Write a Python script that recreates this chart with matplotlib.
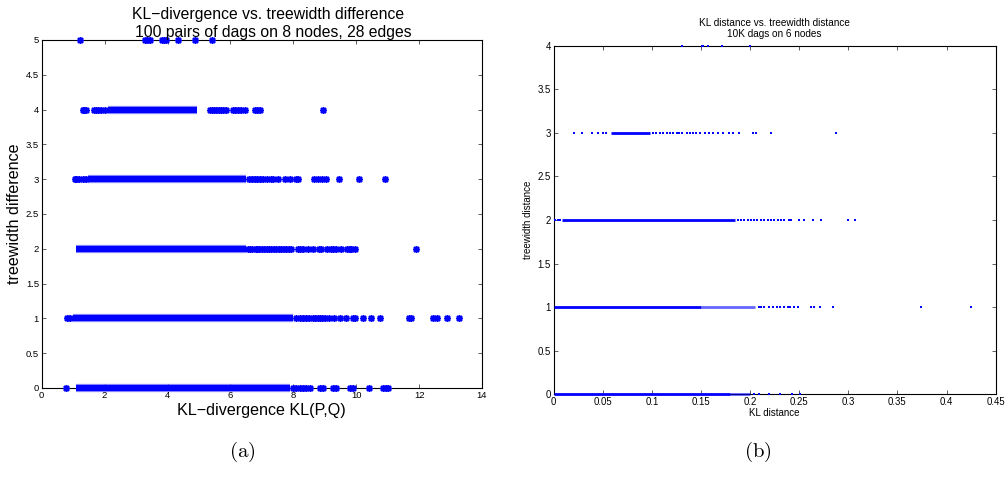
import numpy as np
import matplotlib
matplotlib.use("Agg")
import matplotlib.pyplot as plt

plt.rcParams.update({"font.family": ["Liberation Sans", "DejaVu Sans"],
                     "mathtext.fontset": "cm",
                     "axes.linewidth": 0.8,
                     "xtick.direction": "in", "ytick.direction": "in",
                     "xtick.top": True, "ytick.right": True})
BLUE = "#0000ff"

# ---- (a) KL-divergence vs treewidth difference ----
# dense bands (start, end) per treewidth level, plus sparse points
a_levels = [0, 1, 2, 3, 4, 5]
a_spans = {0: [(1.1, 7.9)], 1: [(1.0, 8.0)], 2: [(1.1, 6.5)],
           3: [(1.48, 6.5)], 4: [(2.1, 4.95)], 5: []}
a_pts = {
    0: [0.76, 8.0, 8.1, 8.2, 8.31, 8.4, 8.52, 8.84, 8.94, 9.26, 9.36,
        9.79, 9.89, 10.42, 10.85, 10.95, 11.0],
    1: [0.79, 0.9, 8.1, 8.2, 8.3, 8.4, 8.5, 8.63, 8.7, 8.78, 8.84, 8.9, 9.0,
        9.15, 9.3, 9.47, 9.68, 9.89, 9.95, 10.21, 10.48, 10.77, 11.69,
        11.74, 12.43, 12.56, 12.9, 13.28],
    2: [6.55, 6.62, 6.7, 6.8, 6.85, 6.9, 7.0, 7.08, 7.15, 7.22, 7.3, 7.38,
        7.45, 7.55, 7.62, 7.7, 7.78, 7.85, 7.92, 8.15, 8.22, 8.3, 8.46,
        8.62, 8.83, 8.87, 9.07, 9.2, 9.26, 9.35, 9.52, 9.7, 9.8, 9.84,
        9.95, 11.9],
    3: [1.05, 1.1, 1.18, 1.32, 1.4, 6.6, 6.7, 6.78, 6.85, 6.95, 7.05, 7.15,
        7.3, 7.35, 7.5, 7.75, 7.9, 8.1, 8.15, 8.65, 8.78, 8.92, 9.03, 9.44,
        10.1, 10.92],
    4: [1.30, 1.36, 1.42, 1.66, 1.72, 1.8, 1.9, 2.0, 5.34, 5.4, 5.48, 5.55,
        5.63, 5.7, 5.78, 5.87, 6.08, 6.15, 6.25, 6.35, 6.45, 6.77, 6.85,
        6.95, 8.94],
    5: [1.23, 3.29, 3.35, 3.44, 3.82, 3.88, 3.95, 4.32, 4.86, 5.43],
}
a_xticks = [0, 2, 4, 6, 8, 10, 12, 14]
a_yticks = [0, 0.5, 1, 1.5, 2, 2.5, 3, 3.5, 4, 4.5, 5]

# ---- (b) KL distance vs treewidth distance ----
b_levels = [0, 1, 2, 3, 4]
b_spans = {0: [(0.0, 0.18)], 1: [(0.0, 0.15)], 2: [(0.008, 0.185)],
           3: [(0.058, 0.098)], 4: []}
b_faint = {0: [(0.18, 0.2)], 1: [(0.15, 0.2052)], 2: [], 3: [], 4: []}
b_pts = {
    0: [0.2035, 0.2086, 0.2188, 0.2307, 0.2426, 0.2511],
    1: [0.2086, 0.2109, 0.2137, 0.2188, 0.2232, 0.2273, 0.2307, 0.2341,
        0.2382, 0.2408, 0.2442, 0.2483, 0.2623, 0.2646, 0.2714, 0.2840,
        0.3744, 0.4250],
    2: [0.0015, 0.004, 0.0065, 0.188, 0.191, 0.194, 0.198, 0.201, 0.204,
        0.207, 0.211, 0.214, 0.218, 0.221, 0.224, 0.228, 0.231, 0.235,
        0.2392, 0.2415, 0.2493, 0.2551, 0.2636, 0.2721, 0.2996, 0.3071],
    3: [0.0207, 0.0285, 0.0387, 0.0448, 0.0506, 0.0535, 0.1016, 0.104,
        0.1084, 0.1118, 0.115, 0.118, 0.1219, 0.1253, 0.128, 0.131, 0.1355,
        0.1389, 0.142, 0.145, 0.1491, 0.1542, 0.1586, 0.1627, 0.1678,
        0.1729, 0.179, 0.1831, 0.1882, 0.2028, 0.2062, 0.2215, 0.2877],
    4: [0.1305, 0.1508, 0.1525, 0.157, 0.1712, 0.2004],
}
b_xticks = [0, 0.05, 0.1, 0.15, 0.2, 0.25, 0.3, 0.35, 0.4, 0.45]
b_yticks = [0, 0.5, 1, 1.5, 2, 2.5, 3, 3.5, 4]


def _fmt(v):
    return f"{v:g}"


def _style(ax, xt, yt, fs, tl):
    ax.set_xticks(xt); ax.set_xticklabels([_fmt(v) for v in xt])
    ax.set_yticks(yt); ax.set_yticklabels([_fmt(v) for v in yt])
    ax.tick_params(labelsize=fs, length=tl, width=0.6, pad=2,
                   color="#444444")


fig = plt.figure(figsize=(10.05, 4.93), dpi=100)

# panel (a)
ax = fig.add_axes([0.0415, 0.2130, 0.4381, 0.7059])
for lv in a_levels:
    for s, e in a_spans[lv]:
        ax.hlines(lv, s, e, color=BLUE, lw=6.0, alpha=0.35, clip_on=False,
                  zorder=3)
        ax.hlines(lv, s, e, color=BLUE, lw=4.6, clip_on=False, zorder=3)
    ax.plot(a_pts[lv], [lv] * len(a_pts[lv]), ls="none", marker=(8, 2, 0),
            ms=5.0, mew=1.1, color=BLUE, clip_on=False, zorder=3)
ax.set_xlim(0, 14); ax.set_ylim(0, 5)
_style(ax, a_xticks, a_yticks, 6.8, 3.0)
ax.set_xlabel("KL\u2212divergence KL(P,Q)", fontsize=11.6, labelpad=2)
ax.set_ylabel("treewidth difference", fontsize=11.6, labelpad=3)
ax.text(0.515, 1.06, "KL\u2212divergence vs. treewidth difference",
        transform=ax.transAxes, ha="center", va="baseline", fontsize=11.3)
ax.text(0.525, 1.01, "100 pairs of dags on 8 nodes, 28 edges",
        transform=ax.transAxes, ha="center", va="baseline", fontsize=11.3)

# panel (b)
bx = fig.add_axes([0.5509, 0.2002, 0.4398, 0.7071])
for lv in b_levels:
    for s, e in b_spans[lv]:
        bx.hlines(lv, s, e, color=BLUE, lw=2.0, clip_on=False, zorder=3)
    for s, e in b_faint[lv]:
        bx.hlines(lv, s, e, color=BLUE, lw=2.0, alpha=0.6, clip_on=False,
                  zorder=3)
    bx.plot(b_pts[lv], [lv] * len(b_pts[lv]), ls="none", marker="s",
            ms=1.9, mew=0, color=BLUE, clip_on=False, zorder=3)
bx.set_xlim(0, 0.45); bx.set_ylim(0, 4)
_style(bx, b_xticks, b_yticks, 6.9, 3.0)
bx.set_xlabel("KL distance", fontsize=7.0, labelpad=1)
bx.set_ylabel("treewidth distance", fontsize=7.0, labelpad=3)
bx.text(0.5, 1.057, "KL distance vs. treewidth distance",
        transform=bx.transAxes, ha="center", va="baseline", fontsize=7.2)
bx.text(0.5, 1.024, "10K dags on 6 nodes",
        transform=bx.transAxes, ha="center", va="baseline", fontsize=7.2)

fig.text(242 / 1005, 1 - 452 / 493, r"$\mathrm{(a)}$", ha="center",
         va="center", fontsize=15)
fig.text(758 / 1005, 1 - 452 / 493, r"$\mathrm{(b)}$", ha="center",
         va="center", fontsize=15)

fig.savefig("out.png", dpi=100)
plt.close(fig)
